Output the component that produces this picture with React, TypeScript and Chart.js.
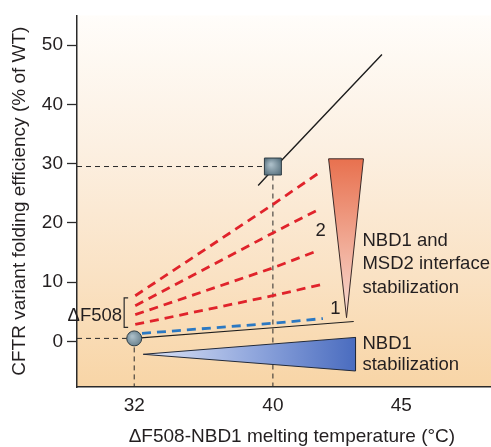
import React, { useEffect, useRef } from 'react';
import { Chart, registerables } from 'chart.js';

Chart.register(...registerables);

// ---- axes ----
const yTicks = [0, 10, 20, 30, 40, 50];
const yRange = [-7.7, 55];
const xTickTemps = [32, 40, 45];
const xTickLabels = ['32', '40', '45'];
const xRange = [28.7, 48.5];
// schematic axis: spacing above 40 °C is stretched in the original figure
const stretchAbove40 = 1.48;

// ---- reference variants ----
const circleTemps = [32];
const circleValues = [0.5];
const squareTemps = [40];
const squareValues = [29.5];

// ---- solid black line through stabilized variant ----
const trendTemps = [39.15, 40, 44.25];
const trendValues = [26.3, 29.0, 48.4];

// ---- thin black line from ΔF508 ----
const baseTemps = [32, 40, 43.15];
const baseValues = [0.5, 2.3, 3.35];

// ---- blue dashed (NBD1 stabilization only) ----
const blueTemps = [32.45, 40, 41.95];
const blueValues = [1.35, 3.05, 3.85];

// ---- red dashed (NBD1 + interface) ----
const redStartTemp = 32.06;
const redStartValues = [7.7, 6.0, 4.5, 2.85];
const redMidValues = [23.1, 18.3, 12.4, 7.7];
const redEndTemps = [41.75, 41.8, 41.8, 42.0];
const redEndValues = [28.3, 22.3, 15.4, 9.7];

// ---- wedges ----
const redWedgeTemps = [42.17, 43.53, 42.87];
const redWedgeValues = [30.8, 30.8, 4.0];
const blueWedgeTemps = [32.52, 43.22, 43.22];
const blueWedgeValues = [-2.18, 0.67, -5.0];

// ---- bracket next to ΔF508 ----
const bracketTemps = [31.65, 31.42, 31.42, 31.65];
const bracketValues = [7.35, 7.35, 2.35, 2.35];

// ---- text annotations ----
const annotationTexts = ['ΔF508', '1', '2', 'NBD1 and', 'MSD2 interface', 'stabilization', 'NBD1', 'stabilization'];
const annotationTemps = [31.3, 42.44, 41.86, 43.49, 43.49, 43.49, 43.49, 43.49];
const annotationValues = [4.35, 5.4, 18.6, 16.9, 13.05, 9.05, -0.35, -4.0];
const annotationAlign = ['right', 'center', 'center', 'left', 'left', 'left', 'left', 'left'];

const FONT = '"Liberation Sans", Arial, Helvetica, sans-serif';
const TEXT = '#231f20';

const warp = (t: number) => (t <= 40 ? t : 40 + (t - 40) * stretchAbove40);
const pts = (ts: number[], vs: number[]) => ts.map((t, i) => ({ x: warp(t), y: vs[i] }));

const backgroundPlugin = {
  id: 'bgGradient',
  beforeDraw(chart: any) {
    const { ctx, chartArea } = chart;
    if (!chartArea) return;
    const g = ctx.createLinearGradient(0, chartArea.top, 0, chartArea.bottom);
    g.addColorStop(0, '#fffdfa');
    g.addColorStop(0.35, '#fcf0e2');
    g.addColorStop(0.7, '#fae2c4');
    g.addColorStop(1, '#f8d5a6');
    ctx.save();
    ctx.fillStyle = g;
    ctx.fillRect(chartArea.left, chartArea.top, chartArea.right - chartArea.left, chartArea.bottom - chartArea.top);
    ctx.restore();
  },
};

const annotationPlugin = {
  id: 'annotations',
  afterDatasetsDraw(chart: any) {
    const { ctx, scales } = chart;
    ctx.save();
    ctx.fillStyle = TEXT;
    ctx.textBaseline = 'middle';
    annotationTexts.forEach((text, i) => {
      ctx.font = `18.5px ${FONT}`;
      ctx.textAlign = annotationAlign[i];
      ctx.fillText(text, scales.x.getPixelForValue(warp(annotationTemps[i])), scales.y.getPixelForValue(annotationValues[i]));
    });
    ctx.restore();
  },
};

const markerFill = (ctx: any) => {
  const chart = ctx.chart;
  if (!chart.chartArea || !ctx.parsed) return '#6d8591';
  const px = chart.scales.x.getPixelForValue(ctx.parsed.x);
  const py = chart.scales.y.getPixelForValue(ctx.parsed.y);
  const g = chart.ctx.createRadialGradient(px - 2, py - 2, 1, px, py, 10);
  g.addColorStop(0, '#a9bcc6');
  g.addColorStop(1, '#5a7380');
  return g;
};

export default function App() {
  const ref = useRef<HTMLCanvasElement | null>(null);

  useEffect(() => {
    document.body.style.margin = '0';
    if (!ref.current) return;

    const guide = {
      type: 'line' as const,
      showLine: true,
      borderColor: '#2a2a2a',
      borderWidth: 1,
      borderDash: [5, 4],
      pointRadius: 0,
      fill: false,
      order: 20,
    };

    const redLines = redStartValues.map((sv, i) => ({
      type: 'line' as const,
      data: pts([redStartTemp, 40, redEndTemps[i]], [sv, redMidValues[i], redEndValues[i]]),
      showLine: true,
      borderColor: '#e0232b',
      borderWidth: 2.8,
      borderDash: [9, 6],
      pointRadius: 0,
      fill: false,
      order: 10,
    }));

    const chart = new Chart(ref.current, {
      type: 'scatter',
      data: {
        datasets: [
          {
            data: pts(circleTemps, circleValues),
            pointStyle: 'circle',
            pointRadius: 7.5,
            pointBackgroundColor: markerFill,
            pointBorderColor: '#2e3c44',
            pointBorderWidth: 1,
            order: 0,
          } as any,
          {
            data: pts(squareTemps, squareValues),
            pointStyle: 'rect',
            pointRadius: 12,
            pointBackgroundColor: markerFill,
            pointBorderColor: '#2e3c44',
            pointBorderWidth: 1,
            order: 0,
          },
          {
            type: 'line',
            data: pts(redWedgeTemps.concat(redWedgeTemps[0]), redWedgeValues.concat(redWedgeValues[0])),
            showLine: true,
            borderColor: '#3a2a28',
            borderWidth: 1,
            pointRadius: 0,
            fill: 'shape',
            backgroundColor: (c: any) => {
              const ch = c.chart;
              if (!ch.chartArea) return '#eea08a';
              const y0 = ch.scales.y.getPixelForValue(redWedgeValues[0]);
              const y1 = ch.scales.y.getPixelForValue(redWedgeValues[2]);
              const g = ch.ctx.createLinearGradient(0, y0, 0, y1);
              g.addColorStop(0, '#e8714f');
              g.addColorStop(0.5, '#f0a690');
              g.addColorStop(1, '#f8dcd4');
              return g;
            },
            order: 5,
          },
          {
            type: 'line',
            data: pts(blueWedgeTemps.concat(blueWedgeTemps[0]), blueWedgeValues.concat(blueWedgeValues[0])),
            showLine: true,
            borderColor: '#222a3a',
            borderWidth: 1,
            pointRadius: 0,
            fill: 'shape',
            backgroundColor: (c: any) => {
              const ch = c.chart;
              if (!ch.chartArea) return '#8aa0d8';
              const x0 = ch.scales.x.getPixelForValue(warp(blueWedgeTemps[0]));
              const x1 = ch.scales.x.getPixelForValue(warp(blueWedgeTemps[1]));
              const g = ch.ctx.createLinearGradient(x0, 0, x1, 0);
              g.addColorStop(0, '#dfe5f6');
              g.addColorStop(0.5, '#93a9de');
              g.addColorStop(1, '#4a6cbf');
              return g;
            },
            order: 5,
          },
          {
            type: 'line',
            data: pts(trendTemps, trendValues),
            showLine: true,
            borderColor: '#1e1e1e',
            borderWidth: 1.4,
            pointRadius: 0,
            fill: false,
            order: 8,
          },
          {
            type: 'line',
            data: pts(baseTemps, baseValues),
            showLine: true,
            borderColor: '#1e1e1e',
            borderWidth: 1.2,
            pointRadius: 0,
            fill: false,
            order: 8,
          },
          {
            type: 'line',
            data: pts(blueTemps, blueValues),
            showLine: true,
            borderColor: '#2b78c2',
            borderWidth: 2.8,
            borderDash: [9, 6],
            pointRadius: 0,
            fill: false,
            order: 9,
          },
          ...redLines,
          {
            type: 'line',
            data: pts(bracketTemps, bracketValues),
            showLine: true,
            borderColor: '#2a2a2a',
            borderWidth: 1.2,
            pointRadius: 0,
            fill: false,
            order: 9,
          },
          { ...guide, data: pts([xRange[0], squareTemps[0]], [squareValues[0], squareValues[0]]) },
          { ...guide, data: pts([squareTemps[0], squareTemps[0]], [squareValues[0], yRange[0]]) },
          { ...guide, data: pts([xRange[0], circleTemps[0]], [circleValues[0], circleValues[0]]) },
          { ...guide, data: pts([circleTemps[0], circleTemps[0]], [circleValues[0], yRange[0]]) },
        ] as any,
      },
      options: {
        animation: false,
        responsive: false,
        devicePixelRatio: 1,
        layout: { autoPadding: false, padding: { top: 13, right: 0, bottom: 0, left: 0 } },
        plugins: { legend: { display: false }, tooltip: { enabled: false } },
        scales: {
          x: {
            type: 'linear',
            min: warp(xRange[0]),
            max: warp(xRange[1]),
            afterBuildTicks: (scale: any) => {
              scale.ticks = xTickTemps.map((t) => ({ value: warp(t) }));
            },
            afterFit: (scale: any) => {
              scale.height = 60;
            },
            grid: { display: false, drawTicks: false },
            border: { display: true, color: '#2a2a2a', width: 1.5 },
            ticks: {
              padding: 7,
              color: TEXT,
              font: { family: FONT, size: 19 },
              maxRotation: 0,
              callback: (_v: any, i: number) => xTickLabels[i],
            },
            title: {
              display: true,
              text: '   ΔF508-NBD1 melting temperature (°C)',
              color: TEXT,
              font: { family: FONT, size: 19, lineHeight: 1.05 },
              padding: { top: 0, bottom: 0 },
            },
          },
          y: {
            type: 'linear',
            min: yRange[0],
            max: yRange[1],
            afterBuildTicks: (scale: any) => {
              scale.ticks = yTicks.map((v) => ({ value: v }));
            },
            afterFit: (scale: any) => {
              scale.width = 77;
            },
            grid: { drawOnChartArea: false, drawTicks: true, tickLength: 10, tickColor: '#2a2a2a', tickWidth: 1.3 },
            border: { display: true, color: '#2a2a2a', width: 1.5 },
            ticks: {
              padding: 4,
              color: TEXT,
              font: { family: FONT, size: 19 },
              callback: (v: any) => String(v),
            },
            title: {
              display: true,
              text: 'CFTR variant folding efficiency (% of WT)',
              color: TEXT,
              font: { family: FONT, size: 19 },
              padding: { top: 8, bottom: 0 },
            },
          },
        },
      },
      plugins: [backgroundPlugin, annotationPlugin],
    });

    return () => chart.destroy();
  }, []);

  return (
    <div style={{ width: 491, height: 447 }}>
      <canvas ref={ref} width={491} height={447} />
    </div>
  );
}
